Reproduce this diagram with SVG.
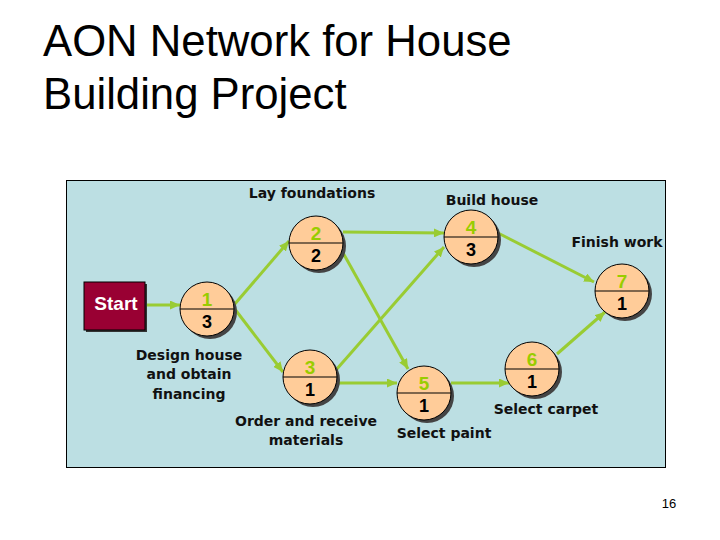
<svg xmlns="http://www.w3.org/2000/svg" width="720" height="540" viewBox="0 0 720 540">
<defs>
<style>
.title{font-family:"Liberation Sans",Arial,sans-serif;font-size:43.7px;fill:#000}
.lbl{font-family:"DejaVu Sans",Verdana,sans-serif;font-size:14px;font-weight:bold;fill:#111;text-anchor:middle}
.shadow{fill:#444}
.node{fill:#FFCC99;stroke:#000;stroke-width:1}
.div{stroke:#000;stroke-width:1.2}
.top{font-family:"Liberation Sans",Arial,sans-serif;font-weight:bold;font-size:19px;fill:#99CC00;text-anchor:middle}
.bot{font-family:"Liberation Sans",Arial,sans-serif;font-weight:bold;font-size:18px;fill:#000;text-anchor:middle}
.edge{stroke:#99CC33;stroke-width:3;fill:none;marker-end:url(#ah)}
</style>
<marker id="ah" markerUnits="userSpaceOnUse" markerWidth="11" markerHeight="9" refX="10" refY="4.5" orient="auto">
<path d="M0,0 L10,4.5 L0,9 Z" fill="#99CC33"/>
</marker>
</defs>
<rect width="720" height="540" fill="#fff"/>
<text class="title" x="43" y="56">AON Network for House</text>
<text class="title" x="43" y="109">Building Project</text>
<rect x="66.5" y="180.5" width="599" height="287" fill="#BCDFE3" stroke="#000" stroke-width="1"/>
<g id="connectors">
<line class="edge" x1="145" y1="305" x2="180" y2="305"/>
<line class="edge" x1="234" y1="305" x2="289" y2="241"/>
<line class="edge" x1="234" y1="308" x2="283" y2="372"/>
<line class="edge" x1="343" y1="232" x2="444" y2="233"/>
<line class="edge" x1="342" y1="251" x2="408" y2="369"/>
<line class="edge" x1="336" y1="370" x2="444" y2="247"/>
<line class="edge" x1="337" y1="383" x2="397" y2="383"/>
<line class="edge" x1="498" y1="233" x2="594" y2="282"/>
<line class="edge" x1="451" y1="383" x2="509" y2="383"/>
<line class="edge" x1="557" y1="354" x2="605" y2="312"/>
</g>
<g id="start">
<rect x="86" y="284" width="61" height="48" fill="#333"/>
<rect x="84" y="282" width="61" height="48" fill="#990033" stroke="#000" stroke-width="1"/>
<text x="116" y="310" font-family="Liberation Sans,Arial,sans-serif" font-weight="bold" font-size="19" fill="#fff" text-anchor="middle">Start</text>
</g>
<g id="n1">
<circle class="shadow" cx="210" cy="312" r="27"/>
<circle class="node" cx="207" cy="309" r="27"/>
<line class="div" x1="180" y1="309" x2="234" y2="309"/>
<text class="top" x="207" y="306">1</text>
<text class="bot" x="207" y="328">3</text>
<text class="lbl" x="189" y="360">Design house</text>
<text class="lbl" x="189" y="379">and obtain</text>
<text class="lbl" x="189" y="399">financing</text>
</g>
<g id="n2">
<circle class="shadow" cx="319" cy="246" r="27"/>
<circle class="node" cx="316" cy="243" r="27"/>
<line class="div" x1="289" y1="243" x2="343" y2="243"/>
<text class="top" x="316" y="240">2</text>
<text class="bot" x="316" y="262">2</text>
<text class="lbl" x="312" y="198">Lay foundations</text>
</g>
<g id="n3">
<circle class="shadow" cx="313" cy="380" r="27"/>
<circle class="node" cx="310" cy="377" r="27"/>
<line class="div" x1="283" y1="377" x2="337" y2="377"/>
<text class="top" x="310" y="374">3</text>
<text class="bot" x="310" y="396">1</text>
<text class="lbl" x="306" y="426">Order and receive</text>
<text class="lbl" x="306" y="445">materials</text>
</g>
<g id="n4">
<circle class="shadow" cx="474" cy="240" r="27"/>
<circle class="node" cx="471" cy="237" r="27"/>
<line class="div" x1="444" y1="237" x2="498" y2="237"/>
<text class="top" x="471" y="234">4</text>
<text class="bot" x="471" y="256">3</text>
<text class="lbl" x="492" y="205">Build house</text>
</g>
<g id="n5">
<circle class="shadow" cx="427" cy="396" r="27"/>
<circle class="node" cx="424" cy="393" r="27"/>
<line class="div" x1="397" y1="393" x2="451" y2="393"/>
<text class="top" x="424" y="390">5</text>
<text class="bot" x="424" y="412">1</text>
<text class="lbl" x="444" y="438">Select paint</text>
</g>
<g id="n6">
<circle class="shadow" cx="535" cy="372" r="27"/>
<circle class="node" cx="532" cy="369" r="27"/>
<line class="div" x1="505" y1="369" x2="559" y2="369"/>
<text class="top" x="532" y="366">6</text>
<text class="bot" x="532" y="388">1</text>
<text class="lbl" x="546" y="414">Select carpet</text>
</g>
<g id="n7">
<circle class="shadow" cx="625" cy="294" r="27"/>
<circle class="node" cx="622" cy="291" r="27"/>
<line class="div" x1="595" y1="291" x2="649" y2="291"/>
<text class="top" x="622" y="288">7</text>
<text class="bot" x="622" y="310">1</text>
<text class="lbl" x="617" y="247">Finish work</text>
</g>
<text x="669" y="508" font-family="Liberation Sans,Arial,sans-serif" font-size="13" fill="#000" text-anchor="middle">16</text>
</svg>
